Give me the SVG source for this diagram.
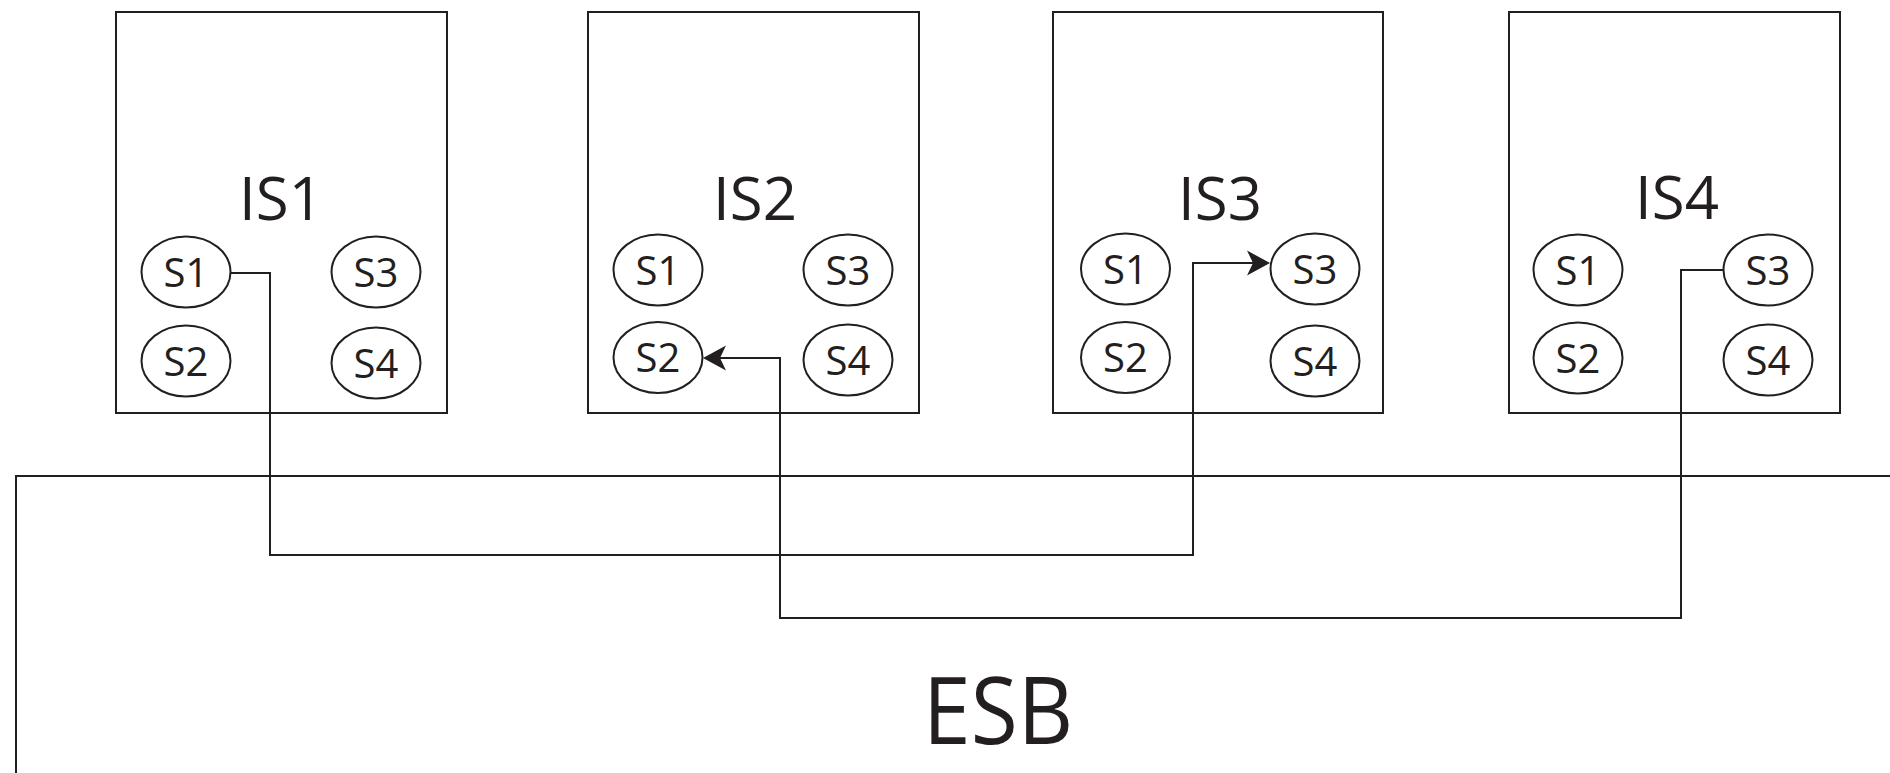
<svg xmlns="http://www.w3.org/2000/svg" width="1890" height="773" viewBox="0 0 1890 773">
  <style>
    .box { fill: #ffffff; stroke: #231f20; stroke-width: 2; }
    .svc { fill: #ffffff; stroke: #231f20; stroke-width: 2; }
    .line { fill: none; stroke: #231f20; stroke-width: 2; }
    .is { font-family: "Open Sans", "Liberation Sans", sans-serif; font-size: 60px; fill: #231f20; text-anchor: middle; }
    .s { font-family: "Open Sans", "Liberation Sans", sans-serif; font-size: 40px; fill: #231f20; text-anchor: middle; }
    .esb { font-family: "Open Sans", "Liberation Sans", sans-serif; font-size: 94px; fill: #231f20; text-anchor: middle; }
  </style>
  <defs>
    <marker id="arrow" markerUnits="userSpaceOnUse" viewBox="-24 -13 25 26" markerWidth="25" markerHeight="26" refX="-17" refY="0" orient="auto" overflow="visible">
      <path d="M0,0 L-23,-12.5 L-17,0 L-23,12.5 Z" fill="#231f20"/>
    </marker>
  </defs>
  <rect width="1890" height="773" fill="#ffffff"/>

  <g id="esb">
    <path class="line" d="M1890,476 H16 V773"/>
    <text class="esb" x="998" y="744" textLength="150" lengthAdjust="spacingAndGlyphs">ESB</text>
  </g>

  <g id="is1">
    <rect class="box" x="116" y="12" width="331" height="401"/>
    <text class="is" x="281" y="220">IS1</text>
    <ellipse class="svc" cx="186" cy="272" rx="44.5" ry="35.5"/>
    <text class="s" x="186" y="286.5">S1</text>
    <ellipse class="svc" cx="376" cy="272" rx="44.5" ry="35.5"/>
    <text class="s" x="376" y="286.5">S3</text>
    <ellipse class="svc" cx="186" cy="361" rx="44.5" ry="35.5"/>
    <text class="s" x="186" y="375.5">S2</text>
    <ellipse class="svc" cx="376" cy="363" rx="44.5" ry="35.5"/>
    <text class="s" x="376" y="377.5">S4</text>
  </g>

  <g id="is2">
    <rect class="box" x="588" y="12" width="331" height="401"/>
    <text class="is" x="755" y="220">IS2</text>
    <ellipse class="svc" cx="658" cy="270" rx="44.5" ry="35.5"/>
    <text class="s" x="658" y="284.5">S1</text>
    <ellipse class="svc" cx="848" cy="270" rx="44.5" ry="35.5"/>
    <text class="s" x="848" y="284.5">S3</text>
    <ellipse class="svc" cx="658" cy="357.5" rx="44.5" ry="35.5"/>
    <text class="s" x="658" y="372">S2</text>
    <ellipse class="svc" cx="848" cy="360" rx="44.5" ry="35.5"/>
    <text class="s" x="848" y="374.5">S4</text>
  </g>

  <g id="is3">
    <rect class="box" x="1053" y="12" width="330" height="401"/>
    <text class="is" x="1220" y="220">IS3</text>
    <ellipse class="svc" cx="1125.5" cy="269" rx="44.5" ry="35.5"/>
    <text class="s" x="1125.5" y="283.5">S1</text>
    <ellipse class="svc" cx="1315" cy="269" rx="44.5" ry="35.5"/>
    <text class="s" x="1315" y="283.5">S3</text>
    <ellipse class="svc" cx="1125.5" cy="357.5" rx="44.5" ry="35.5"/>
    <text class="s" x="1125.5" y="372">S2</text>
    <ellipse class="svc" cx="1315" cy="361" rx="44.5" ry="35.5"/>
    <text class="s" x="1315" y="375.5">S4</text>
  </g>

  <g id="is4">
    <rect class="box" x="1509" y="12" width="331" height="401"/>
    <text class="is" x="1677" y="219">IS4</text>
    <ellipse class="svc" cx="1578" cy="270" rx="44.5" ry="35.5"/>
    <text class="s" x="1578" y="284.5">S1</text>
    <ellipse class="svc" cx="1768" cy="270" rx="44.5" ry="35.5"/>
    <text class="s" x="1768" y="284.5">S3</text>
    <ellipse class="svc" cx="1578" cy="358" rx="44.5" ry="35.5"/>
    <text class="s" x="1578" y="372.5">S2</text>
    <ellipse class="svc" cx="1768" cy="360" rx="44.5" ry="35.5"/>
    <text class="s" x="1768" y="374.5">S4</text>
  </g>

  <g id="connectors">
    <path class="line" d="M230.5,273 H270 V555 H1193 V263 H1253" marker-end="url(#arrow)"/>
    <path class="line" d="M1723.5,270 H1681 V618 H780 V358 H720" marker-end="url(#arrow)"/>
  </g>
</svg>
